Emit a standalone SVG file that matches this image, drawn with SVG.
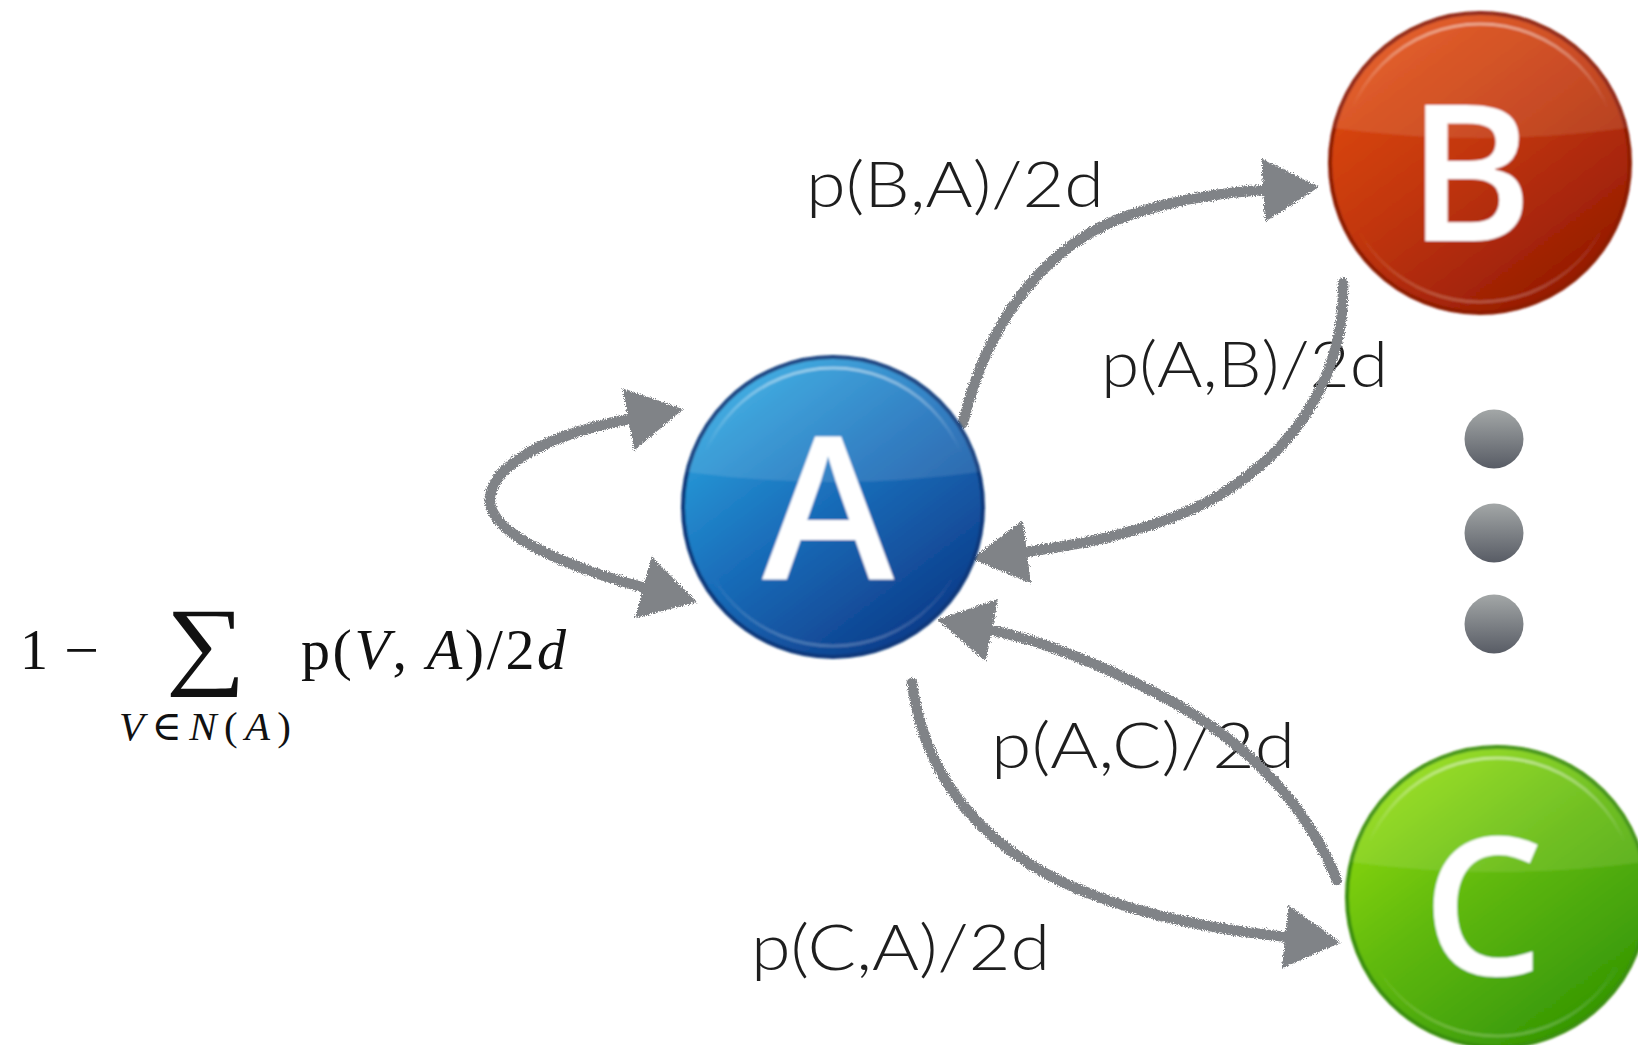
<svg xmlns="http://www.w3.org/2000/svg" width="1638" height="1045" viewBox="0 0 1638 1045">
<style>
.lbl{font-family:Lato,"Open Sans","Liberation Sans",sans-serif;font-weight:300;font-size:63px;fill:#1e1e1e}
.math{font-family:"Liberation Serif","DejaVu Serif",serif;fill:#111}
.it{font-style:italic}
.letter{font-family:"Open Sans","Liberation Sans",sans-serif;font-weight:600;fill:#fff;text-anchor:middle}
.edge{fill:none;stroke:#808387;stroke-width:10.5;stroke-linecap:round}
.gloss{fill:#fff;opacity:0.11}
.ring{fill:none;stroke-width:3}
.dot{fill:url(#gDot)}
</style>
<defs>
<filter id="rough" filterUnits="userSpaceOnUse" x="0" y="0" width="1638" height="1045">
<feTurbulence type="fractalNoise" baseFrequency="0.9" numOctaves="2" seed="4" result="n"/>
<feDisplacementMap in="SourceGraphic" in2="n" scale="6" xChannelSelector="R" yChannelSelector="G"/>
</filter>
<filter id="soft" x="-10%" y="-10%" width="120%" height="120%">
<feGaussianBlur stdDeviation="1.3"/>
</filter>
<marker id="head" markerUnits="userSpaceOnUse" viewBox="-2 -36 58 72" markerWidth="58" markerHeight="72" refX="0" refY="0" orient="auto-start-reverse">
<path d="M-2,-32 L54,0 L-2,32 Z" fill="#808387"/>
</marker>
<linearGradient id="gA" x1="0.2" y1="0.1" x2="0.8" y2="0.9">
<stop offset="0" stop-color="#2aa0dc"/><stop offset="0.45" stop-color="#1a6fbb"/><stop offset="1" stop-color="#0e3e8c"/>
</linearGradient>
<linearGradient id="gB" x1="0.2" y1="0.1" x2="0.8" y2="0.9">
<stop offset="0" stop-color="#de4a10"/><stop offset="0.45" stop-color="#c2360b"/><stop offset="1" stop-color="#961c05"/>
</linearGradient>
<linearGradient id="gC" x1="0.2" y1="0.1" x2="0.8" y2="0.9">
<stop offset="0" stop-color="#8bd80f"/><stop offset="0.45" stop-color="#5fb80a"/><stop offset="1" stop-color="#379806"/>
</linearGradient>
<linearGradient id="gRing" x1="0" y1="0" x2="0" y2="1">
<stop offset="0" stop-color="#fff" stop-opacity="0.45"/><stop offset="0.3" stop-color="#fff" stop-opacity="0"/><stop offset="0.75" stop-color="#fff" stop-opacity="0"/><stop offset="1" stop-color="#fff" stop-opacity="0.22"/>
</linearGradient>
<linearGradient id="gDot" x1="0" y1="0" x2="0" y2="1">
<stop offset="0" stop-color="#a3a7a7"/><stop offset="1" stop-color="#585c65"/>
</linearGradient>
</defs>
<rect width="1638" height="1045" fill="#fff"/>

<g id="labels">
<text class="lbl" x="806" y="207" textLength="298" lengthAdjust="spacingAndGlyphs">p(B,A)/2d</text>
<text class="lbl" x="1101" y="387" textLength="287" lengthAdjust="spacingAndGlyphs">p(A,B)/2d</text>
<text class="lbl" x="991" y="768" textLength="304" lengthAdjust="spacingAndGlyphs">p(A,C)/2d</text>
<text class="lbl" x="751" y="970" textLength="299" lengthAdjust="spacingAndGlyphs">p(C,A)/2d</text>
<g id="selfloop-label" class="math">
<text x="20" y="669" font-size="56">1</text>
<text x="64" y="669" font-size="56" textLength="35" lengthAdjust="spacingAndGlyphs">−</text>
<text x="166" y="676" font-size="98" textLength="80" lengthAdjust="spacingAndGlyphs">∑</text>
<text x="301" y="669" font-size="58" textLength="265" lengthAdjust="spacing">p(<tspan class="it">V</tspan>, <tspan class="it">A</tspan>)/2<tspan class="it">d</tspan></text>
<text x="119" y="740" font-size="41" textLength="172" lengthAdjust="spacing"><tspan class="it">V</tspan>∈<tspan class="it">N</tspan>(<tspan class="it">A</tspan>)</text>
</g>
</g>

<g id="connectors" filter="url(#rough)">
<path id="e-AA" class="edge" d="M630,419 C560,432 495,460 490,497 C486,532 560,565 645,588" marker-start="url(#head)" marker-end="url(#head)"/>
<path id="e-AB" class="edge" d="M963,423 C985,330 1040,245 1130,215 C1180,198 1230,192 1265,190" marker-end="url(#head)"/>
<path id="e-BA" class="edge" d="M1343,283 C1345,360 1310,440 1220,495 C1160,530 1080,545 1025,552" marker-end="url(#head)"/>
<path id="e-CA" class="edge" d="M1337,880 C1300,790 1230,730 1150,690 C1100,665 1040,640 990,630" marker-end="url(#head)"/>
<path id="e-AC" class="edge" d="M912,683 C925,780 985,850 1080,890 C1150,918 1220,930 1287,937" marker-end="url(#head)"/>
</g>

<g id="node-A" filter="url(#soft)">
<circle cx="833" cy="507" r="150" fill="url(#gA)" stroke="#0c387a" stroke-width="4"/>
<path class="gloss" d="M687,472 A150,150 0 0 1 979,472 Q833,492 687,472 Z"/>
<circle class="ring" cx="833" cy="507" r="139" stroke="url(#gRing)"/>
<text class="letter" x="828" y="580" font-size="200">A</text>
</g>
<g id="node-B" filter="url(#soft)">
<circle cx="1480" cy="163" r="150" fill="url(#gB)" stroke="#8c1a06" stroke-width="4"/>
<path class="gloss" d="M1334,128 A150,150 0 0 1 1626,128 Q1480,148 1334,128 Z"/>
<circle class="ring" cx="1480" cy="163" r="139" stroke="url(#gRing)"/>
<text class="letter" x="1470" y="241" font-size="190">B</text>
</g>
<g id="node-C" filter="url(#soft)">
<circle cx="1497" cy="897" r="150" fill="url(#gC)" stroke="#3a8f08" stroke-width="4"/>
<path class="gloss" d="M1351,862 A150,150 0 0 1 1643,862 Q1497,882 1351,862 Z"/>
<circle class="ring" cx="1497" cy="897" r="139" stroke="url(#gRing)"/>
<text class="letter" x="1483" y="975" font-size="192">C</text>
</g>
<g id="node-more">
<circle class="dot" cx="1494" cy="439" r="29.5"/>
<circle class="dot" cx="1494" cy="533" r="29.5"/>
<circle class="dot" cx="1494" cy="624" r="29.5"/>
</g>
</svg>
